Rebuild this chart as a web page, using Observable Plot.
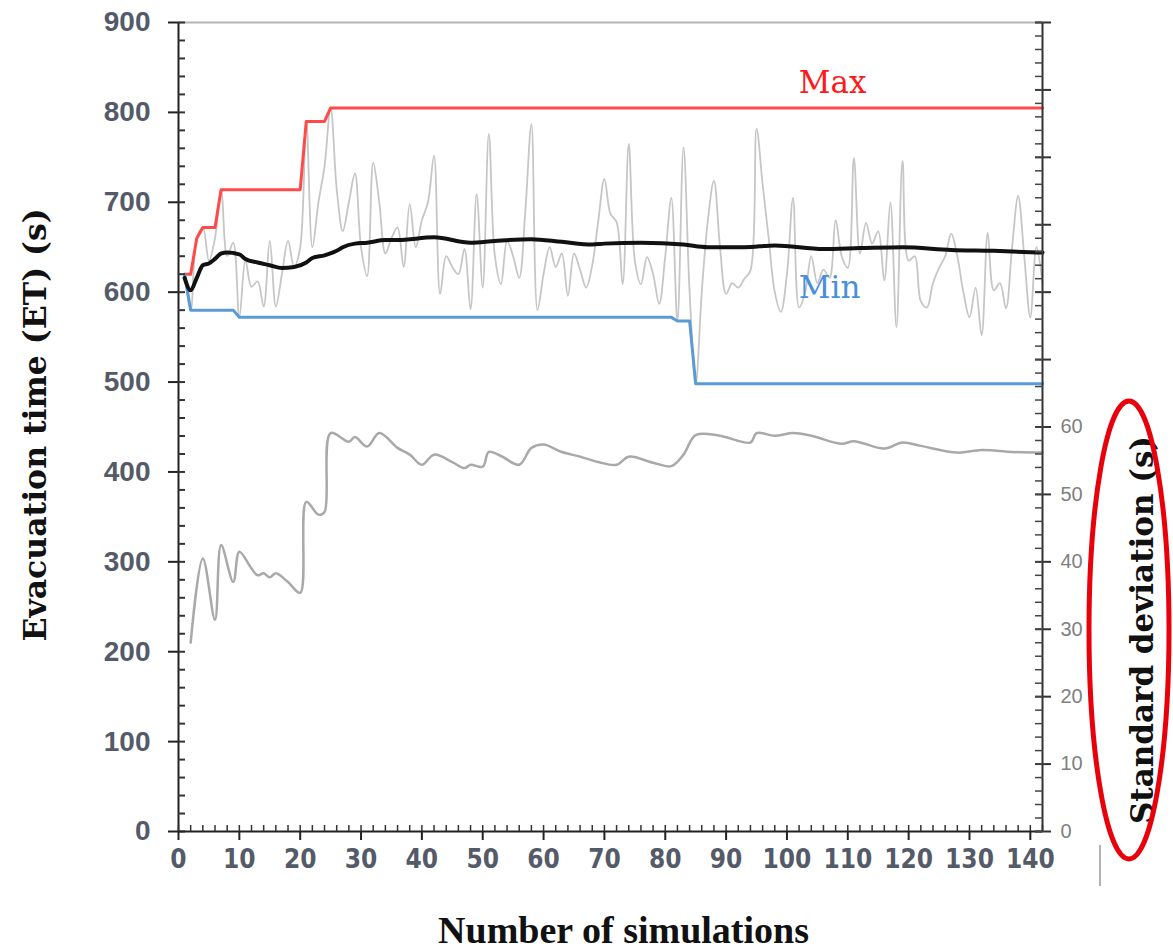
<!DOCTYPE html>
<html><head><meta charset="utf-8">
<script src="https://cdn.jsdelivr.net/npm/d3@7"></script>
<script src="https://cdn.jsdelivr.net/npm/@observablehq/plot@0.6"></script>
<style>body{margin:0;background:#fff}#chart svg{display:block}</style>
</head><body><div id="chart"></div>
<script>
// Evacuation time of each simulation (simulations 1..142)
const etValues = [620,580,660,672,635,660,714,640,655,572,636,606,612,584,657,584,620,657,628,650,
790,650,700,740,805,715,668,700,732,650,618,744,700,643,660,672,628,698,650,680,
700,752,598,640,628,620,648,581,709,605,776,640,609,657,640,616,690,787,580,620,
650,628,643,596,643,625,605,630,680,726,687,678,609,765,635,609,639,620,587,640,
705,568,761,600,498,600,680,724,650,598,610,605,615,624,782,720,660,600,578,620,
705,583,600,640,610,625,616,680,640,627,749,643,677,654,668,613,700,561,746,635,
640,590,583,610,627,640,665,640,600,572,605,552,666,602,610,582,650,707,640,572,
650,610];
// Running maximum (step line)
const maxSims = [1,2,3,4,6,7,20,21,24,25,142];
const maxVals = [620,620,660,672,672,714,714,790,790,805,805];
// Running minimum (step line)
const minSims = [1,2,9,10,81,82,84,85,142];
const minVals = [620,580,580,572,572,568,568,498,498];
// Running mean
const meanSims = [1,2,3,4,5,6,7,8,10,11,13,15,17,19,21,22,24,26,27,29,31,34,36,42,48,52,58,63,68,70,76,83,87,93,98,106,112,119,127,134,142];
const meanVals = [616,602,616,630,632,637,643,644,642,637,633,630,627,628,633,638,641,646,650,654,655,658,658,661,655,657,659,656,653,654,655,653,650,650,652,648,649,650,647,646,644];
// Standard deviation (right axis, s)
const stdSims = [2,4,6,7,9,10,12,13,14,15,16,18,20,21,23,24,25,28,29,31,33,36,38,40,42,45,47,48,50,51,53,56,58,60,63,66,69,72,74,78,81,83,85,89,94,95,98,101,104,109,111,116,119,122,128,132,137,142];
const stdVals = [28,40.5,31.4,42.5,37,41.5,39,38,38.3,37.7,38.3,37,35.4,48.9,47,47.4,59.1,57.8,58.5,57.1,59.1,56.9,55.9,54.4,55.9,54.8,53.9,54.4,54.1,56.3,55.7,54.4,56.9,57.4,56.3,55.6,54.8,54.4,55.6,54.7,54.2,55.9,58.8,58.7,57.7,59.1,58.7,59.1,58.7,57.5,57.9,56.8,57.7,57.2,56.2,56.6,56.3,56.2];

// Axis ticks
const leftTicks = [0,100,200,300,400,500,600,700,800,900];
const leftMinor = d3.range(0, 901, 20);
const xTicks = [0,10,20,30,40,50,60,70,80,90,100,110,120,130,140];
const xMinor = d3.range(0, 143, 2);
const rightMax = 120;              // right axis spans 0..120 s over the same height
const rightLabels = [0,10,20,30,40,50,60];
const rightMajor = d3.range(0, 121, 10);
const rightMinor = d3.range(0, 121, 2);
const k = 900 / rightMax;          // right-axis value -> left-axis units

const labels = [{t:"Max", x:107.5, y:833, c:"#ff1a1a"}, {t:"Min", x:107.0, y:605, c:"#4a8fdb"}];

const et = etValues.map((v,i)=>({x:i+1, y:v}));
const mx = maxSims.map((s,i)=>({x:s, y:maxVals[i]}));
const mn = minSims.map((s,i)=>({x:s, y:minVals[i]}));
const me = meanSims.map((s,i)=>({x:s, y:meanVals[i]}));
const sd = stdSims.map((s,i)=>({x:s, y:stdVals[i]*k}));

const sans = "'Liberation Sans', Arial, sans-serif";
const narrow = "'Liberation Sans Narrow', 'DejaVu Sans Condensed', 'Liberation Sans', sans-serif";
const serif = "'Liberation Serif', 'DejaVu Serif', serif";
const wideSerif = "'DejaVu Serif', 'Liberation Serif', serif";
const blank = () => "";

const svg = Plot.plot({
  width: 1173, height: 950,
  marginLeft: 178, marginRight: 131, marginTop: 22, marginBottom: 119,
  style: {background: "#fff", fontFamily: sans},
  x: {domain: [0, 142]},
  y: {domain: [0, 900]},
  marks: [
    Plot.ruleY([900], {stroke: "#b4b4b4", strokeWidth: 2}),
    Plot.line(sd, {x: "x", y: "y", stroke: "#a9a9a9", strokeWidth: 2.5, curve: "catmull-rom"}),
    Plot.line(et, {x: "x", y: "y", stroke: "#c6c6c6", strokeWidth: 1.8, curve: "catmull-rom"}),
    Plot.line(mx, {x: "x", y: "y", stroke: "#ff4a4a", strokeWidth: 3}),
    Plot.line(mn, {x: "x", y: "y", stroke: "#5b9bd5", strokeWidth: 3}),
    Plot.line(me, {x: "x", y: "y", stroke: "#111", strokeWidth: 4, curve: "monotone-x"}),
    Plot.text(labels, {x: "x", y: "y", text: "t", fill: "c", fontSize: 31, fontFamily: wideSerif}),
    // left axis
    Plot.ruleX([0], {stroke: "#222", strokeWidth: 2}),
    Plot.axisY({ticks: leftTicks, tickSize: 10, tickFormat: blank, stroke: "#222", strokeWidth: 2, label: null}),
    Plot.axisY({ticks: leftMinor, tickSize: 7, dx: 7, tickFormat: blank, stroke: "#333", strokeWidth: 2, label: null}),
    Plot.axisY({ticks: leftTicks, tickSize: 0, tickPadding: 28, fontSize: 28, fontWeight: "bold", fill: "#545a68", label: null}),
    // bottom axis
    Plot.ruleY([0], {stroke: "#222", strokeWidth: 2}),
    Plot.axisX({ticks: xTicks, tickSize: 9, tickFormat: blank, stroke: "#222", strokeWidth: 2, label: null}),
    Plot.axisX({ticks: xMinor, tickSize: 6, dy: -6, tickFormat: blank, stroke: "#333", strokeWidth: 1.5, label: null}),
    Plot.axisX({ticks: xTicks, tickSize: 0, tickPadding: 18, fontSize: 26, fontFamily: narrow, fontWeight: "bold", fill: "#545a68", label: null}),
    // right axis
    Plot.ruleX([142], {stroke: "#333", strokeWidth: 2}),
    Plot.axisY(rightMajor.map(d => d*k), {anchor: "right", tickSize: 16, dx: -8, tickFormat: blank, stroke: "#333", strokeWidth: 2, label: null}),
    Plot.axisY(rightMinor.map(d => d*k), {anchor: "right", tickSize: 8, dx: -8, tickFormat: blank, stroke: "#444", strokeWidth: 1.5, label: null}),
    Plot.axisY(rightLabels.map(d => d*k), {anchor: "right", tickSize: 0, tickPadding: 18, tickFormat: d => Math.round(d/k), fontSize: 20, fill: "#808080", label: null}),
    // axis titles
    Plot.text(["Evacuation time (ET) (s)"], {frameAnchor: "left", dx: -143, dy: -2, rotate: -90, textAnchor: "middle", lineAnchor: "middle", fontSize: 31.5, fontWeight: "bold", fontFamily: wideSerif, fill: "#111"}),
    Plot.text(["Number of simulations"], {frameAnchor: "bottom", dx: 13, dy: 99, textAnchor: "middle", lineAnchor: "middle", fontSize: 38, fontWeight: "bold", fontFamily: serif, fill: "#111"}),
    Plot.text(["Standard deviation (s)"], {frameAnchor: "right", dx: 101, dy: 203, rotate: -90, textAnchor: "middle", lineAnchor: "middle", fontSize: 31, fontWeight: "bold", fontFamily: wideSerif, fill: "#111"})
  ]
});
const s = d3.select(svg);
s.append("line").attr("x1", 1100).attr("x2", 1100).attr("y1", 845).attr("y2", 886).attr("stroke", "#9a9a9a").attr("stroke-width", 1.5);
s.append("ellipse").attr("cx", 1129).attr("cy", 630).attr("rx", 40).attr("ry", 229)
  .attr("fill", "none").attr("stroke", "#e8000b").attr("stroke-width", 5);
document.getElementById("chart").appendChild(svg);
</script>
</body></html>
